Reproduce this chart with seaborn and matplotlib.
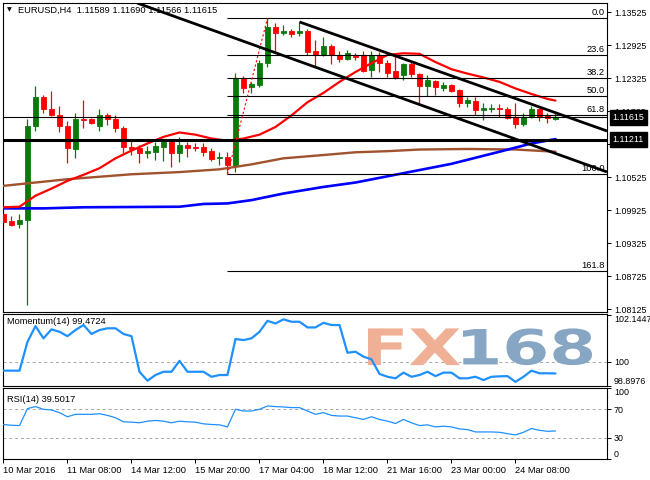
import numpy as np
import pandas as pd
import matplotlib
matplotlib.use("Agg")
import matplotlib.pyplot as plt
import seaborn as sns
from matplotlib.transforms import blended_transform_factory as btf, Affine2D
from matplotlib.textpath import TextPath
from matplotlib.patches import PathPatch
from matplotlib.font_manager import FontProperties

# ---------------- data ----------------
symbol = "EURUSD,H4"
header_ohlc = ["1.11589", "1.11690", "1.11566", "1.11615"]

opens = [1.0986, 1.0973, 1.0968, 1.0974, 1.1146, 1.1198, 1.1177, 1.1166, 1.1146, 1.1104,
         1.1158, 1.1158, 1.1145, 1.1166, 1.1158, 1.1142, 1.1107, 1.1106, 1.1096, 1.1098,
         1.1108, 1.1116, 1.1096, 1.1111, 1.1108, 1.1107, 1.1101, 1.1087, 1.1089, 1.1073,
         1.1233, 1.1216, 1.1220, 1.1260, 1.1326, 1.1315, 1.1319, 1.1314, 1.1319, 1.1283,
         1.1275, 1.1291, 1.1275, 1.1267, 1.1273, 1.1275, 1.1247, 1.1275, 1.1261, 1.1245,
         1.1239, 1.1259, 1.1240, 1.1219, 1.1227, 1.1214, 1.1220, 1.1211, 1.1188, 1.1192,
         1.1175, 1.1176, 1.1179, 1.1177, 1.1162, 1.1150, 1.1162, 1.1177, 1.1166, 1.11589]
highs = [1.0991, 1.0982, 1.0986, 1.1159, 1.1219, 1.1202, 1.1210, 1.1182, 1.1155, 1.1169,
         1.1193, 1.1160, 1.1177, 1.1169, 1.1166, 1.1146, 1.1122, 1.1111, 1.1109, 1.1117,
         1.1122, 1.1121, 1.1125, 1.1117, 1.1115, 1.1115, 1.1106, 1.1099, 1.1099, 1.1242,
         1.1236, 1.1226, 1.1266, 1.1342, 1.1333, 1.1329, 1.1322, 1.1335, 1.1322, 1.1302,
         1.1308, 1.1295, 1.1283, 1.1284, 1.1278, 1.1282, 1.1283, 1.1281, 1.1266, 1.1275,
         1.1261, 1.1262, 1.1242, 1.1239, 1.1229, 1.1225, 1.1222, 1.1213, 1.1198, 1.1198,
         1.1188, 1.1186, 1.1186, 1.1180, 1.1188, 1.1170, 1.1182, 1.1179, 1.1170, 1.11690]
lows = [1.0964, 1.0964, 1.0960, 1.0820, 1.1137, 1.1169, 1.1164, 1.1134, 1.1079, 1.1088,
        1.1142, 1.1149, 1.1137, 1.1148, 1.1135, 1.1097, 1.1093, 1.1079, 1.1088, 1.1084,
        1.1083, 1.1072, 1.1081, 1.1090, 1.1101, 1.1091, 1.1083, 1.1075, 1.1058, 1.1063,
        1.1205, 1.1205, 1.1216, 1.1253, 1.1281, 1.1311, 1.1308, 1.1309, 1.1275, 1.1255,
        1.1273, 1.1259, 1.1263, 1.1265, 1.1266, 1.1244, 1.1234, 1.1244, 1.1234, 1.1231,
        1.1229, 1.1234, 1.1186, 1.1200, 1.1202, 1.1210, 1.1207, 1.1180, 1.1180, 1.1166,
        1.1157, 1.1171, 1.1163, 1.1158, 1.1142, 1.1145, 1.1160, 1.1154, 1.1151, 1.11566]
closes = [1.0971, 1.0966, 1.0975, 1.1146, 1.1198, 1.1177, 1.1166, 1.1145, 1.1106, 1.1158,
          1.1157, 1.1151, 1.1166, 1.1158, 1.1142, 1.1107, 1.1104, 1.1096, 1.1101, 1.1110,
          1.1116, 1.1096, 1.1111, 1.1106, 1.1106, 1.1099, 1.1085, 1.1090, 1.1075, 1.1233,
          1.1214, 1.1222, 1.1260, 1.1326, 1.1314, 1.1319, 1.1313, 1.1319, 1.1281, 1.1275,
          1.1291, 1.1275, 1.1267, 1.1279, 1.1271, 1.1246, 1.1275, 1.1260, 1.1243, 1.1233,
          1.1259, 1.1240, 1.1219, 1.1229, 1.1216, 1.1220, 1.1210, 1.1188, 1.1193, 1.1174,
          1.1178, 1.1179, 1.1177, 1.1160, 1.1150, 1.1162, 1.1177, 1.1163, 1.1160, 1.11615]

red_ma_bars = [0, 2, 4, 6, 8, 10, 12, 14, 16, 18, 20, 22, 24, 26, 28, 30, 32, 34, 36, 38,
               40, 42, 44, 46, 48, 50, 52, 54, 56, 58, 60, 62, 64, 66, 68, 69]
red_ma_vals = [1.0998, 1.0999, 1.1019, 1.1032, 1.1046, 1.1057, 1.1069, 1.1087, 1.1101, 1.1114,
               1.1126, 1.1134, 1.1130, 1.1123, 1.1119, 1.1123, 1.1130, 1.1144, 1.1165, 1.1189,
               1.1206, 1.1226, 1.1244, 1.1260, 1.1275, 1.1278, 1.1277, 1.1262, 1.1249, 1.1241,
               1.1234, 1.1226, 1.1214, 1.1204, 1.1195, 1.1192]
brown_ma_bars = [0, 8, 16, 22, 27, 31, 35, 40, 44, 48, 52, 58, 64, 69]
brown_ma_vals = [1.1037, 1.1049, 1.1058, 1.1062, 1.1067, 1.1076, 1.1087, 1.1093, 1.1098, 1.1100,
                 1.1103, 1.1104, 1.1103, 1.1099]
blue_ma_bars = [0, 5, 10, 22, 25, 28, 31, 35, 40, 44, 50, 56, 62, 66, 69]
blue_ma_vals = [1.0996, 1.0996, 1.0998, 1.0999, 1.1004, 1.1005, 1.1011, 1.1023, 1.1035, 1.1043,
                1.1060, 1.1077, 1.1099, 1.1114, 1.1122]

momentum = [99.60, 99.60, 99.60, 100.92, 101.64, 101.08, 101.49, 101.38, 101.18, 101.46,
            101.69, 101.28, 101.46, 101.54, 101.54, 101.28, 101.18, 99.55, 99.14, 99.40,
            99.55, 99.55, 100.05, 99.55, 99.55, 99.55, 99.32, 99.40, 99.40, 101.05,
            101.00, 101.08, 101.38, 101.88, 101.76, 101.95, 101.84, 101.84, 101.58, 101.58,
            101.79, 101.69, 101.69, 100.42, 100.47, 100.24, 100.12, 99.45, 99.32, 99.25,
            99.51, 99.32, 99.40, 99.55, 99.35, 99.51, 99.51, 99.25, 99.25, 99.32,
            99.17, 99.32, 99.34, 99.35, 99.09, 99.32, 99.60, 99.48, 99.48, 99.4724]
rsi = [48.6, 47.5, 47.1, 71.0, 73.8, 70.0, 69.0, 65.3, 59.5, 62.9,
       62.9, 62.9, 63.8, 61.4, 58.1, 52.4, 51.9, 51.0, 53.3, 54.3,
       53.3, 51.0, 53.3, 52.4, 51.9, 49.5, 48.6, 48.1, 45.2, 70.0,
       67.6, 67.6, 70.0, 74.7, 73.8, 73.3, 72.4, 72.4, 67.6, 62.9,
       65.3, 61.4, 60.5, 60.5, 58.1, 55.7, 59.5, 55.7, 53.3, 50.0,
       55.7, 51.0, 47.1, 48.1, 45.2, 46.2, 45.2, 42.4, 41.4, 38.1,
       38.1, 38.1, 37.6, 35.7, 33.9, 37.6, 42.9, 40.4, 39.0, 39.5017]

price_ticks = [1.13525, 1.12925, 1.12325, 1.11725, 1.11125, 1.10525, 1.09925, 1.09325, 1.08725, 1.08125]
time_tick_bars = [0, 8, 16, 24, 32, 40, 48, 56, 64]
time_tick_labels = ["10 Mar 2016", "11 Mar 08:00", "14 Mar 12:00", "15 Mar 20:00", "17 Mar 04:00",
                    "18 Mar 12:00", "21 Mar 16:00", "23 Mar 00:00", "24 Mar 08:00"]

current_price = 1.11615
support_line = 1.11211
fib_low_bar, fib_low = 28, 1.1058
fib_high_bar, fib_high = 33, 1.13416
fib_levels = [0.0, 23.6, 38.2, 50.0, 61.8, 100.0, 161.8]
trend_long = [(16.7, 1.13694), (75.44, 1.10622)]
trend_upper = [(37.0, 1.13350), (75.44, 1.11367)]

mom_min, mom_max = 98.8976, 102.1447
watermark_parts = ["FX", "168"]
watermark_colors = ["#F0B096", "#86A6C4"]

# ---------------- style ----------------
sns.set_style("white")
plt.rcParams['font.family'] = ['Liberation Sans', 'DejaVu Sans']
FS = 6.7
TFS = 6.4
GREEN = "#0B7A0B"
RED = "#FF0000"
BROWN = "#A0522D"
MBLUE = "#1E90FF"

W, H = 650, 480
fig = plt.figure(figsize=(W / 100, H / 100), dpi=100)
fig.patch.set_facecolor("white")


def rect(l, t, r, b):
    return [l / W, 1 - b / H, (r - l) / W, (b - t) / H]


ax = fig.add_axes(rect(3, 3, 607, 312))
axm = fig.add_axes(rect(3, 314, 607, 386), sharex=ax)
axr = fig.add_axes(rect(3, 388, 607, 459), sharex=ax)

XMIN, XMAX = -0.06, 75.44
for a in (ax, axm, axr):
    a.set_facecolor("white")
    for s in a.spines.values():
        s.set_color("black")
        s.set_linewidth(0.8)
        s.set_visible(True)
    a.yaxis.tick_right()
    a.tick_params(axis='y', which='both', right=True, left=False, labelright=True, labelleft=False,
                  direction='out', length=3, width=0.7, pad=2, labelsize=TFS, colors='black')
    a.tick_params(axis='x', which='both', bottom=False, top=False, labelbottom=False)
ax.set_xlim(XMIN, XMAX)

# ---------------- main price panel ----------------
bars = np.arange(len(opens))
o = np.array(opens); h = np.array(highs); l = np.array(lows); c = np.array(closes)
cols = np.where(c >= o, GREEN, RED)
ax.vlines(bars, l, h, colors=cols, linewidth=0.9, zorder=2)
ax.bar(bars, np.abs(c - o), bottom=np.minimum(o, c), width=0.62, color=cols,
       edgecolor=cols, linewidth=0.6, zorder=3)

sns.lineplot(x=brown_ma_bars, y=brown_ma_vals, ax=ax, color=BROWN, linewidth=1.7, zorder=4, legend=False)
sns.lineplot(x=blue_ma_bars, y=blue_ma_vals, ax=ax, color="#0000FF", linewidth=1.9, zorder=4, legend=False)
sns.lineplot(x=red_ma_bars, y=red_ma_vals, ax=ax, color=RED, linewidth=1.6, zorder=5, legend=False)

ax.axhline(current_price, color="black", linewidth=0.8, zorder=6)
ax.axhline(support_line, color="black", linewidth=2.2, zorder=6)

rng = fib_high - fib_low
tr_r = btf(ax.transAxes, ax.transData)
for lv in fib_levels:
    p = fib_high - rng * lv / 100.0
    ax.hlines(p, fib_low_bar, XMAX, color="black", linewidth=0.8, zorder=6)
    ax.text(0.9965, p + 0.00015, f"{lv:.1f}", transform=tr_r, ha='right', va='bottom',
            fontsize=FS, color='black', zorder=7)
ax.plot([fib_low_bar, fib_high_bar], [fib_low, fib_high], color=RED, linewidth=0.8,
        linestyle=(0, (2, 2)), zorder=6)

for (x1, y1), (x2, y2) in (trend_long, trend_upper):
    ax.plot([x1, x2], [y1, y2], color="black", linewidth=2.0, zorder=8, solid_capstyle='butt')

ax.set_ylim(1.08076, 1.13694)
ax.set_yticks(price_ticks)
ax.set_yticklabels([f"{t:.5f}" for t in price_ticks])

for val, txt in ((current_price, "1.11615"), (support_line, "1.11211")):
    ax.text(1.0095, val, txt, transform=tr_r, ha='left', va='center', fontsize=TFS, color='white',
            zorder=10, clip_on=False,
            bbox=dict(boxstyle='square,pad=0.3', facecolor='black', edgecolor='black'))

ax.text(0.0248, 0.977, symbol + "  " + " ".join(header_ohlc), transform=ax.transAxes,
        ha='left', va='center', fontsize=FS, color='black', zorder=10)
ax.text(0.01, 0.977, "\u25BC", transform=ax.transAxes, ha='center', va='center',
        fontsize=4.5, color='black', family='DejaVu Sans', zorder=10)

# ---------------- momentum panel ----------------
def watermark(a, text, x0, x1, y0, y1, color):
    tp = TextPath((0, 0), text, size=10, prop=FontProperties(family='DejaVu Sans', weight='bold'))
    bb = tp.get_extents()
    tr = (Affine2D().translate(-bb.x0, -bb.y0)
          .scale((x1 - x0) / bb.width, (y1 - y0) / bb.height).translate(x0, y0))
    a.add_patch(PathPatch(tr.transform_path(tp), transform=a.transAxes, facecolor=color,
                          edgecolor='none', zorder=2.5, clip_on=False))


axm.axhline(100, color="#A8A8A8", linewidth=0.7, linestyle=(0, (3, 3)), zorder=2)
watermark(axm, watermark_parts[0], 0.6043, 0.7566, 0.29, 0.80, watermark_colors[0])
watermark(axm, watermark_parts[1], 0.7616, 0.9752, 0.29, 0.80, watermark_colors[1])
sns.lineplot(x=bars, y=momentum, ax=axm, color=MBLUE, linewidth=1.6, zorder=3, legend=False)
axm.set_ylim(mom_min, mom_max + 0.05)
axm.set_yticks([mom_min, 100, mom_max])
axm.set_yticklabels([f"{mom_min:.4f}", "100", f"{mom_max:.4f}"])
tl = axm.get_yticklabels()
tl[0].set_va('bottom'); tl[2].set_va('top')
axm.text(0.007, 0.89, f"Momentum(14) {momentum[-1]:.4f}", transform=axm.transAxes,
         ha='left', va='center', fontsize=FS, color='black', zorder=5)

# ---------------- RSI panel ----------------
for lv in (70, 30):
    axr.axhline(lv, color="#A8A8A8", linewidth=0.7, linestyle=(0, (3, 3)), zorder=2)
sns.lineplot(x=bars, y=rsi, ax=axr, color=MBLUE, linewidth=0.9, zorder=3, legend=False)
axr.set_ylim(0, 100)
axr.set_yticks([0, 30, 70, 100])
axr.set_yticklabels(["0", "30", "70", "100"])
tl = axr.get_yticklabels()
tl[0].set_va('bottom'); tl[3].set_va('top')
axr.text(0.007, 0.845, f"RSI(14) {rsi[-1]:.4f}", transform=axr.transAxes,
         ha='left', va='center', fontsize=FS, color='black', zorder=5)

axr.set_xticks(time_tick_bars)
axr.set_xticklabels(time_tick_labels)
axr.tick_params(axis='x', bottom=True, labelbottom=True, direction='out', length=3, width=0.7,
                pad=2, labelsize=FS, colors='black')
for t in axr.get_xticklabels():
    t.set_ha('left')
for a in (ax, axm, axr):
    a.set_xlabel(""); a.set_ylabel("")
axr.set_xlim(XMIN, XMAX)

fig.savefig("out.png", dpi=100, facecolor="white")
